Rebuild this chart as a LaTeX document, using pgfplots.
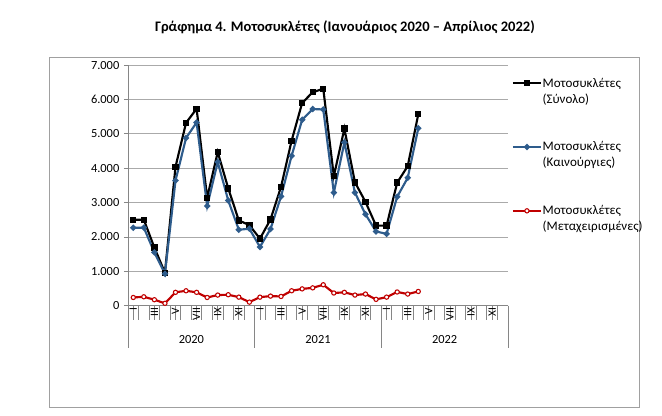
\documentclass[border=0pt]{standalone}
\usepackage{fontspec}
\setmainfont{Carlito}
\usepackage{pgfplots}
\usepackage{pgfplotstable}
\pgfplotsset{compat=1.18}

\definecolor{totblack}{RGB}{0,0,0}
\definecolor{newblue}{RGB}{46,92,140}
\definecolor{usedred}{RGB}{192,0,0}
\definecolor{gridgray}{RGB}{170,170,170}
\definecolor{axisgray}{RGB}{134,134,134}
\definecolor{framegray}{RGB}{160,160,160}

% month index (0 = Jan 2020) + 0.5, total, new, used
\pgfplotstableread{
x     total new  used
0.5   2500  2270 240
1.5   2500  2270 260
2.5   1690  1550 175
3.5   960   930  70
4.5   4040  3640 390
5.5   5320  4880 435
6.5   5730  5330 390
7.5   3140  2900 240
8.5   4470  4180 310
9.5   3410  3060 320
10.5  2480  2210 250
11.5  2345  2240 105
12.5  1950  1710 250
13.5  2510  2230 280
14.5  3460  3180 270
15.5  4800  4360 435
16.5  5900  5410 490
17.5  6210  5720 520
18.5  6310  5710 610
19.5  3770  3290 370
20.5  5150  4750 390
21.5  3590  3290 310
22.5  3020  2660 340
23.5  2330  2160 185
24.5  2330  2090 250
25.5  3580  3170 400
26.5  4060  3720 340
27.5  5570  5160 415
}\motodata

\begin{document}
\begin{tikzpicture}
  % canvas 662x416 px at 0.75pt per px
  \path (0,0) rectangle (496.5pt,-312pt);
  \draw[framegray, line width=0.75pt] (36.75pt,-43.5pt) rectangle (479.25pt,-306pt);
  \node[font=\bfseries\fontsize{10.9}{13}\selectfont] at (258.7pt,-20.25pt)
    {Γράφημα 4. Μοτοσυκλέτες (Ιανουάριος 2020 – Απρίλιος 2022)};

  \begin{axis}[
      at={(96pt,-229.3pt)}, anchor=south west,
      scale only axis, width=285pt, height=180.5pt,
      xmin=0, xmax=36, ymin=0, ymax=7000,
      clip=false,
      axis x line*=bottom, axis y line*=left,
      axis line style={draw=axisgray, line width=0.6pt},
      tick align=outside,
      tick style={axisgray, line width=0.6pt},
      major tick length=3pt,
      ytick={0,1000,...,7000},
      ymajorgrids,
      grid style={gridgray, line width=0.6pt},
      yticklabel style={font=\fontsize{9.3}{10}\selectfont,
        /pgf/number format/.cd, 1000 sep={.}, assume math mode=true},
      xtick={0,1,...,36}, xticklabels={},
      xtick style={/pgfplots/major tick length=10.5pt},
      extra x ticks={0.5,2.5,...,34.5},
      extra x tick labels={I,III,V,VII,IX,XI,I,III,V,VII,IX,XI,I,III,V,VII,IX,XI},
      extra x tick style={grid=none, /pgfplots/major tick length=0pt,
        tick label style={rotate=90, anchor=east, inner sep=1.5pt,
          font=\fontsize{8.5}{9}\selectfont}},
      legend cell align=left,
      legend style={at={(axis description cs:0.999,0.97)}, anchor=north west,
        draw=none, fill=none, font=\fontsize{9.8}{12}\selectfont,
        row sep=37pt, nodes={inner sep=0.5pt}, cells={anchor=base west}},
      legend image code/.code={
        \draw[mark repeat=2, mark phase=2]
          plot coordinates {(0pt,3pt) (10.5pt,3pt) (21pt,3pt)};},
    ]
    \addplot[totblack, line width=1.6pt, mark=square*, mark size=1.6pt,
      mark options={solid, fill=totblack}]
      table[x=x, y=total] {\motodata};
    \addlegendentry{\begin{tabular}[t]{@{}l@{}}Μοτοσυκλέτες\\(Σύνολο)\end{tabular}}

    \addplot[newblue, line width=1.6pt, mark=*, mark size=1.4pt,
      mark options={solid, fill=newblue}]
      table[x=x, y=new] {\motodata};
    \addlegendentry{\begin{tabular}[t]{@{}l@{}}Μοτοσυκλέτες\\(Καινούργιες)\end{tabular}}

    \addplot[usedred, line width=1.6pt, mark=*, mark size=1.6pt,
      mark options={solid, fill=white, line width=0.8pt}]
      table[x=x, y=used] {\motodata};
    \addlegendentry{\begin{tabular}[t]{@{}l@{}}Μοτοσυκλέτες\\(Μεταχειρισμένες)\end{tabular}}

    % year separators and year labels
    \draw[axisgray, line width=0.6pt] (axis cs:0,0)  -- ++(0,-31.5pt);
    \draw[axisgray, line width=0.6pt] (axis cs:12,0) -- ++(0,-31.5pt);
    \draw[axisgray, line width=0.6pt] (axis cs:24,0) -- ++(0,-31.5pt);
    \draw[axisgray, line width=0.6pt] (axis cs:36,0) -- ++(0,-31.5pt);
    \node[font=\fontsize{9.3}{10}\selectfont] at (axis cs:6,0)  [yshift=-25.7pt] {2020};
    \node[font=\fontsize{9.3}{10}\selectfont] at (axis cs:18,0) [yshift=-25.7pt] {2021};
    \node[font=\fontsize{9.3}{10}\selectfont] at (axis cs:30,0) [yshift=-25.7pt] {2022};
  \end{axis}
\end{tikzpicture}
\end{document}
